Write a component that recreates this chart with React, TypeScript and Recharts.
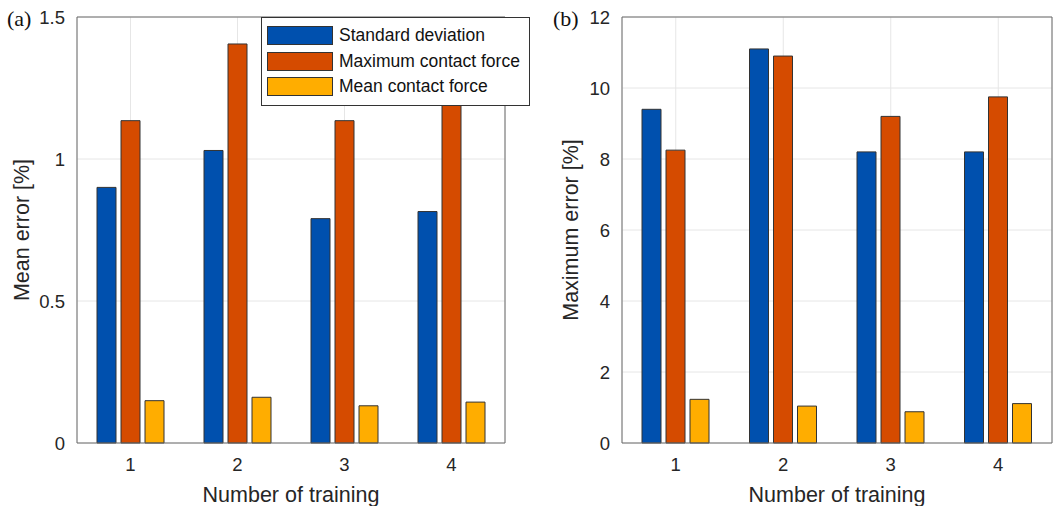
import { BarChart, Bar, XAxis, YAxis, CartesianGrid, Legend } from "recharts";

const categories = ["1", "2", "3", "4"];

// panel (a): mean error [%]
const meanStd = [0.9, 1.03, 0.79, 0.815];
const meanMaxForce = [1.135, 1.405, 1.135, 1.19];
const meanMeanForce = [0.149, 0.161, 0.131, 0.144];
const meanTicks = [0, 0.5, 1, 1.5];

// panel (b): maximum error [%]
const maxStd = [9.4, 11.1, 8.2, 8.2];
const maxMaxForce = [8.25, 10.9, 9.2, 9.75];
const maxMeanForce = [1.23, 1.04, 0.88, 1.11];
const maxTicks = [0, 2, 4, 6, 8, 10, 12];

const seriesNames = ["Standard deviation", "Maximum contact force", "Mean contact force"];
const colors = ["#0050ae", "#d54b00", "#ffad00"];

const build = (a: number[], b: number[], c: number[]) =>
  categories.map((cat, i) => ({ cat, s0: a[i], s1: b[i], s2: c[i] }));

const dataA = build(meanStd, meanMaxForce, meanMeanForce);
const dataB = build(maxStd, maxMaxForce, maxMeanForce);

const sans = "'Liberation Sans', Arial, sans-serif";
const axisColor = "#6b6b6b";
const textColor = "#262626";

const LegendBox = (props: any) => {
  // keep the series order, recharts sorts legend items by name
  const items = [...(props.payload || [])].sort(
    (a: any, b: any) => seriesNames.indexOf(a.value) - seriesNames.indexOf(b.value)
  );
  return (
    <div
      style={{
        border: "1px solid #333",
        background: "#fff",
        padding: "5px 0 5px 5px",
        boxSizing: "border-box",
        width: 269,
      }}
    >
      {items.map((it: any) => (
        <div key={it.value} style={{ display: "flex", alignItems: "center", height: 25.5 }}>
          <span
            style={{
              display: "inline-block",
              width: 64,
              height: 17,
              background: it.color,
              border: "1px solid #333",
              marginRight: 6,
            }}
          />
          <span style={{ fontFamily: sans, fontSize: 17.5, color: "#111" }}>{it.value}</span>
        </div>
      ))}
    </div>
  );
};

type PanelProps = {
  data: any[];
  ticks: number[];
  yLabel: string;
  width: number;
  yAxisWidth: number;
  rightWidth: number;
  labelOffset: number;
  legend?: boolean;
};

const Panel = ({ data, ticks, yLabel, width, yAxisWidth, rightWidth, labelOffset, legend }: PanelProps) => {
  const top = ticks[ticks.length - 1];
  return (
    <BarChart
      width={width}
      height={506}
      data={data}
      margin={{ top: 0, right: 0, bottom: 0, left: 0 }}
      barSize={19}
      barGap={5}
    >
      <CartesianGrid stroke="#e6e6e6" />
      <XAxis
        dataKey="cat"
        height={63}
        tickLine={false}
        tickMargin={9}
        axisLine={{ stroke: axisColor }}
        tick={{ fontSize: 18.5, fill: textColor, fontFamily: sans }}
        label={{
          value: "Number of training",
          position: "insideBottom",
          offset: 4,
          style: { fontSize: 21.5, fill: textColor, fontFamily: sans },
        }}
      />
      <XAxis xAxisId="top" dataKey="cat" orientation="top" height={17} tick={false} tickLine={false} axisLine={{ stroke: axisColor }} />
      <YAxis
        domain={[0, top]}
        ticks={ticks}
        width={yAxisWidth}
        tickLine={false}
        tickMargin={6}
        axisLine={{ stroke: axisColor }}
        tick={{ fontSize: 18.5, fill: textColor, fontFamily: sans }}
        label={{
          value: yLabel,
          angle: -90,
          position: "insideLeft",
          offset: labelOffset,
          style: { fontSize: 21.5, fill: textColor, fontFamily: sans, textAnchor: "middle" },
        }}
      />
      <YAxis
        yAxisId="right"
        orientation="right"
        domain={[0, top]}
        width={rightWidth}
        tick={false}
        tickLine={false}
        axisLine={{ stroke: axisColor }}
      />
      {legend && (
        <Legend
          layout="vertical"
          align="center"
          verticalAlign="middle"
          content={LegendBox}
          wrapperStyle={{ position: "absolute", left: 261, top: 17, width: 269 }}
        />
      )}
      {["s0", "s1", "s2"].map((k, i) => (
        <Bar
          key={k}
          dataKey={k}
          name={seriesNames[i]}
          fill={colors[i]}
          stroke="#333"
          strokeWidth={1}
          isAnimationActive={false}
        />
      ))}
    </BarChart>
  );
};

export default function App() {
  return (
    <div style={{ position: "absolute", left: 0, top: 0, width: 1055, height: 506, background: "#fff" }}>
      <div style={{ position: "absolute", left: 0, top: 0 }}>
        <Panel
          data={dataA}
          ticks={meanTicks}
          yLabel="Mean error [%]"
          width={520}
          yAxisWidth={77}
          rightWidth={15}
          labelOffset={21}
          legend
        />
      </div>
      <div style={{ position: "absolute", left: 530, top: 0 }}>
        <Panel
          data={dataB}
          ticks={maxTicks}
          yLabel="Maximum error [%]"
          width={525}
          yAxisWidth={92}
          rightWidth={3}
          labelOffset={40}
        />
      </div>
      <div style={{ position: "absolute", left: 7, top: 6, fontFamily: "'Liberation Serif', serif", fontSize: 22, color: "#111" }}>
        (a)
      </div>
      <div style={{ position: "absolute", left: 553, top: 6, fontFamily: "'Liberation Serif', serif", fontSize: 22, color: "#111" }}>
        (b)
      </div>
    </div>
  );
}
